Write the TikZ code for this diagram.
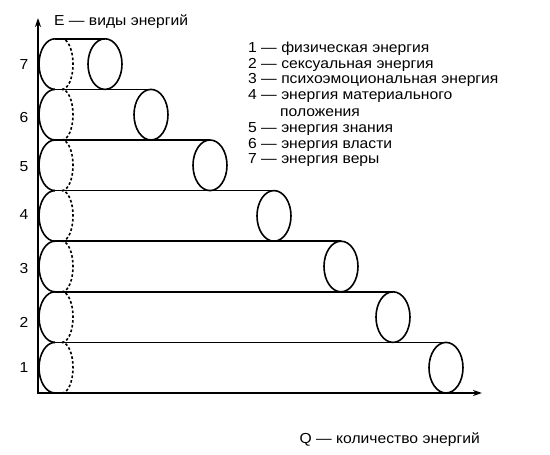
\documentclass[tikz,border=0pt]{standalone}
\usepackage{fontspec}
\setmainfont[FakeStretch=1.08]{Liberation Sans}
\usetikzlibrary{arrows.meta}

\begin{document}
\begin{tikzpicture}[
  x=1pt, y=1pt,
  outline/.style={line width=1.6pt, black},
  hidden/.style={outline, dash pattern=on 2.6pt off 2.2pt},
  axisline/.style={line width=2pt, {Stealth[length=9pt, width=6pt]}-{Stealth[length=9pt, width=6pt]}},
  txt/.style={font=\fontsize{14.5}{16}\selectfont, inner sep=0pt},
  rownum/.style={txt, anchor=base},
  legendline/.style={txt, anchor=base west},
]
% Coordinate system: 1 unit = 1 px of the 550x455 picture, origin at the axis corner.
\def\rowh{50.6}   % height of one cylinder
\def\ry{25.3}     % vertical radius of the end ellipses
\def\lx{17}       % centre of the left (front) arcs
\def\lrx{16}
\def\dx{24}       % centre of the hidden (dashed) arcs
\def\drx{11}
\def\rrx{17}

\useasboundingbox (-38,-62) rectangle (512,393);

% ─── Cylinders (row / centre of right end / baseline of number) ──────────
\foreach \k/\xr/\nb in {1/408/20, 2/355/65, 3/303/119, 4/236/173, 5/172/221, 6/113/270, 7/67/323} {
  \pgfmathsetmacro\yb{(\k-1)*\rowh}
  \pgfmathsetmacro\yc{\yb+\ry}
  \pgfmathsetmacro\yt{\yb+\rowh}
  \draw[outline] (\lx,\yt) -- (\xr,\yt);
  \draw[outline] (\lx,\yb) -- (\xr,\yb);
  \draw[outline] (\lx,\yt) arc[start angle=90, end angle=270, x radius=\lrx, y radius=\ry];
  \draw[hidden] (\dx,\yb) arc[start angle=-90, end angle=90, x radius=\drx, y radius=\ry];
  \draw[outline] (\xr,\yc) ellipse[x radius=\rrx, y radius=\ry];
  \node[rownum] (row\k) at (-14,\nb) {\k};
}

% ─── Axes ────────────────────────────────────────────────────────────────
\coordinate (origin) at (0,0);
\coordinate (etip) at (0,375);
\coordinate (qtip) at (444,0);
\draw[axisline] (etip) -- (origin) -- (qtip);

\node[txt, anchor=base west] (elabel) at (16,367) {E — виды энергий};
\node[txt, anchor=base east] (qlabel) at (442,-51) {Q — количество энергий};

% ─── Legend ──────────────────────────────────────────────────────────────
\node[legendline] (leg1) at (210,340.7) {1 — физическая энергия};
\node[legendline] (leg2) at (210,324.7) {2 — сексуальная энергия};
\node[legendline] (leg3) at (210,309) {3 — психоэмоциональная энергия};
\node[legendline] (leg4) at (210,293.7) {4 — энергия материального};
\node[legendline] (leg4b) at (242,276.3) {положения};
\node[legendline] (leg5) at (210,260.3) {5 — энергия знания};
\node[legendline] (leg6) at (210,244.7) {6 — энергия власти};
\node[legendline] (leg7) at (210,229.7) {7 — энергия веры};

\end{tikzpicture}
\end{document}
